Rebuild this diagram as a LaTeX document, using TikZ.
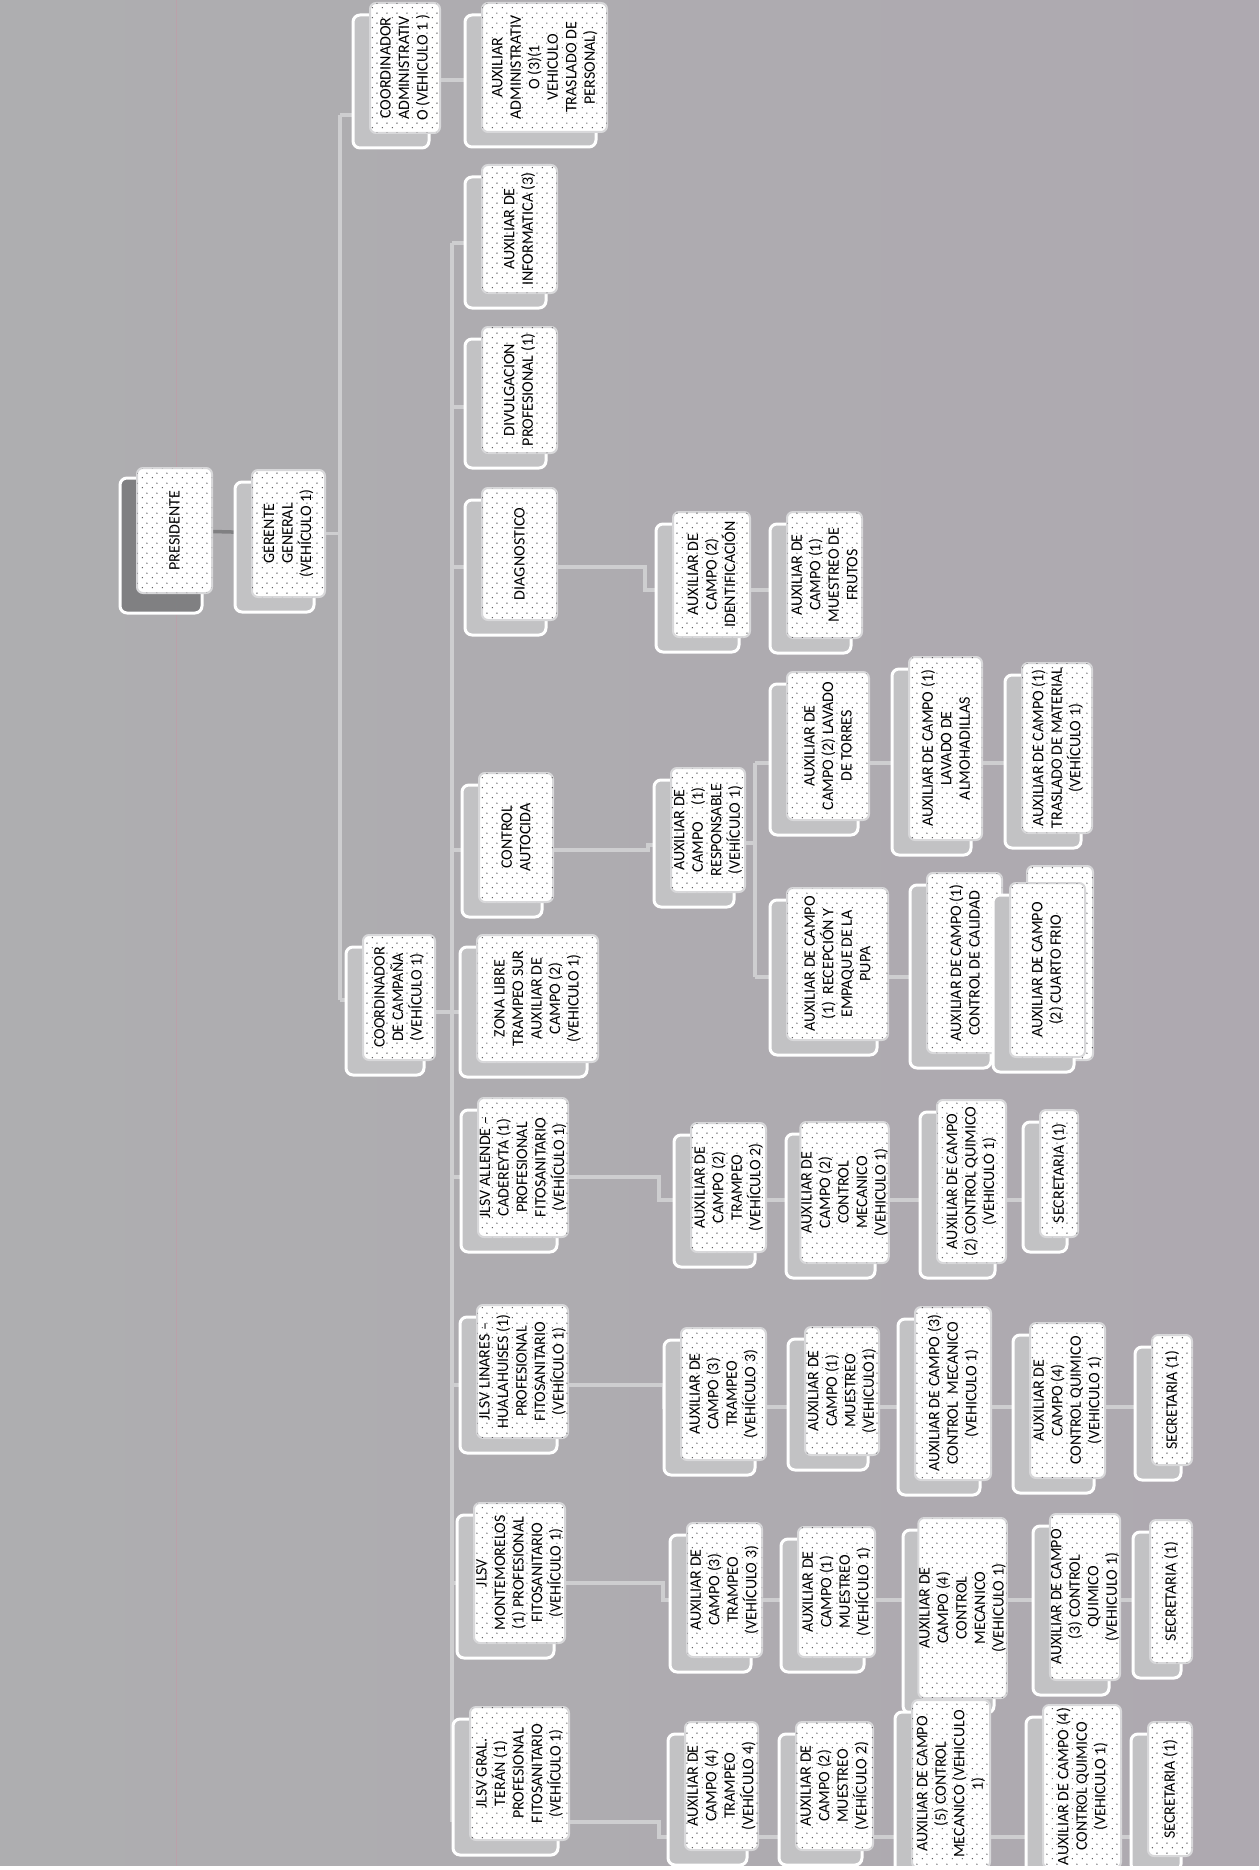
\documentclass[tikz,border=0pt]{standalone}
\usepackage{fontspec}
\setmainfont{Carlito}
\usetikzlibrary{patterns.meta}
\pgfdeclarelayer{back}
\pgfdeclarelayer{lines}
\pgfsetlayers{back,lines,main}
\definecolor{bgA}{RGB}{174,174,176}
\definecolor{bgB}{RGB}{174,169,176}
\definecolor{connc}{RGB}{206,206,208}
\definecolor{shadc}{RGB}{194,194,196}
\definecolor{darksh}{RGB}{128,128,130}
\definecolor{rimc}{RGB}{216,216,218}
\definecolor{dotc}{RGB}{80,80,84}
\tikzdeclarepattern{
  name=sparsedots,
  type=uncolored,
  bottom left={(0pt,0pt)},
  top right={(10pt,10pt)},
  tile size={(10pt,10pt)},
  code={
    \fill (2.5pt,2.5pt) circle[radius=0.8pt];
    \fill (7.5pt,7.5pt) circle[radius=0.8pt];
  }
}
% name, x1, y1, x2, y2, text  (image pixel coordinates of the white box)
\newcommand{\orgbox}[6]{%
  \draw[shadowbox] ({#2-17},{#3+12}) rectangle ({#4-11},{#5+15});
  \node[mainbox, minimum width={(#5)-(#3)}, minimum height={(#4)-(#2)}] (#1) at ({((#2)+(#4))/2},{((#3)+(#5))/2}) {#6};
}
\begin{document}
\begin{tikzpicture}[x=1pt,y=-1pt,
  conn/.style={draw=connc, line width=3.5pt},
  darkconn/.style={draw=darksh, line width=3.5pt},
  shadowbox/.style={fill=shadc, draw=white, line width=3pt, rounded corners=7pt},
  mainbox/.style={rectangle, rounded corners=6pt, fill=white, draw=rimc, line width=2pt,
    rotate=90, inner sep=1pt, align=center, text=black,
    font=\fontsize{16}{18.5}\selectfont,
    postaction={pattern=sparsedots, pattern color=dotc}}]
\useasboundingbox (0,0) rectangle (1259,1870);
\begin{pgfonlayer}{back}
  \shade[left color=bgA, right color=bgB] (0,0) rectangle (1259,1870);
  \draw[draw={rgb,255:red,200;green,150;blue,165}, line width=1pt, opacity=.5] (176,0) -- (176,1870);
\end{pgfonlayer}

% level 1
\draw[shadowbox, fill=darksh] (120,478) rectangle (202,613);
\node[mainbox, minimum width=125, minimum height=75] (pres) at (174.5,530.5) {PRESIDENTE};
\orgbox{ger}{252}{470}{325}{597}{GERENTE\\GENERAL\\(VEHÍCULO 1)}

% coordinators
\orgbox{cadm}{370}{3}{440}{133}{COORDINADOR\\ADMINISTRATIV\\O (VEHICULO 1 )}
\orgbox{auxadm}{482}{3}{607}{132}{AUXILIAR\\ADMINISTRATIV\\O (3)(1\\VEHICULO\\TRASLADO DE\\PERSONAL)}
\orgbox{ccamp}{363}{935}{435}{1060}{COORDINADOR\\DE CAMPAÑA\\(VEHÍCULO 1)}

% children of coordinador de campaña
\orgbox{inf}{482}{165}{557}{293}{AUXILIAR DE\\INFORMATICA (3)}
\orgbox{div}{482}{327}{557}{453}{DIVULGACION\\PROFESIONAL (1)}
\orgbox{diag}{482}{488}{557}{620}{DIAGNOSTICO}
\orgbox{ident}{673}{512}{750}{637}{AUXILIAR DE\\CAMPO (2)\\IDENTIFICACIÓN}
\orgbox{mfrut}{787}{512}{862}{638}{AUXILIAR DE\\CAMPO (1)\\MUESTREO DE\\FRUTOS}

\orgbox{cauto}{479}{773}{553}{902}{CONTROL\\AUTOCIDA}
\orgbox{resp}{671}{768}{745}{892}{AUXILIAR DE\\CAMPO\quad(1)\\RESPONSABLE\\(VEHÍCULO 1)}
\orgbox{ltorres}{787}{672}{869}{820}{AUXILIAR DE\\CAMPO (2) LAVADO\\DE TORRES}
\orgbox{almoh}{909}{657}{982}{840}{AUXILIAR DE CAMPO (1)\\LAVADO DE\\ALMOHADILLAS}
\orgbox{trasl}{1022}{663}{1092}{833}{AUXILIAR DE CAMPO (1)\\TRASLADO DE MATERIAL\\(VEHÍCULO 1)}
\orgbox{recep}{787}{888}{888}{1040}{AUXILIAR DE CAMPO\\(1)\ \ RECEPCIÓN Y\\EMPAQUE DE LA\\PUPA}
\orgbox{calid}{927}{873}{1002}{1053}{AUXILIAR DE CAMPO (1)\\CONTROL DE CALIDAD}
\node[mainbox, minimum width=194, minimum height=66] (cfback) at (1060,963) {};
\orgbox{cfrio}{1010}{883}{1085}{1057}{AUXILIAR DE CAMPO\\(2) CUARTO FRIO}

\orgbox{zona}{477}{935}{598}{1062}{ZONA LIBRE\\TRAMPEO SUR\\AUXILIAR DE\\CAMPO (2)\\(VEHICULO 1)}

\orgbox{allende}{478}{1098}{568}{1237}{JLSV ALLENDE –\\CADEREYTA (1)\\PROFESIONAL\\FITOSANITARIO\\(VEHÍCULO 1)}
\orgbox{atr}{691}{1123}{766}{1252}{AUXILIAR DE\\CAMPO (2)\\TRAMPEO\\(VEHÍCULO 2)}
\orgbox{amec}{803}{1122}{886}{1263}{AUXILIAR DE\\CAMPO (2)\\CONTROL\\MECANICO\\(VEHICULO 1)}
\orgbox{aqui}{937}{1100}{1006}{1263}{AUXILIAR DE CAMPO\\(2) CONTROL QUIMICO\\(VEHICULO 1)}
\orgbox{asec}{1040}{1110}{1078}{1237}{SECRETARIA (1)}

\orgbox{linares}{477}{1305}{568}{1438}{JLSV LINARES –\\HUALAHUISES (1)\\PROFESIONAL\\FITOSANITARIO\\(VEHÍCULO 1)}
\orgbox{ltr}{681}{1328}{766}{1460}{AUXILIAR DE\\CAMPO (3)\\TRAMPEO\\(VEHÍCULO 3)}
\orgbox{lmu}{805}{1327}{879}{1455}{AUXILIAR DE\\CAMPO (1)\\MUESTREO\\(VEHICULO1)}
\orgbox{lmec}{915}{1307}{991}{1480}{AUXILIAR DE CAMPO (3)\\CONTROL\ \ MECANICO\\(VEHICULO 1)}
\orgbox{lqui}{1030}{1323}{1105}{1478}{AUXILIAR DE\\CAMPO (4)\\CONTROL QUIMICO\\(VEHICULO 1)}
\orgbox{lsec}{1152}{1335}{1192}{1465}{SECRETARIA (1)}

\orgbox{monte}{474}{1503}{565}{1643}{JLSV\\MONTEMORELOS\\(1) PROFESIONAL\\FITOSANITARIO\\(VEHÍCULO 1)}
\orgbox{mtr}{687}{1523}{762}{1657}{AUXILIAR DE\\CAMPO (3)\\TRAMPEO\\(VEHÍCULO 3)}
\orgbox{mmu}{798}{1527}{875}{1657}{AUXILIAR DE\\CAMPO (1)\\MUESTREO\\(VEHÍCULO 1)}
\orgbox{mmec}{920}{1518}{1005}{1698}{AUXILIAR DE\\CAMPO (4)\\CONTROL\\MECANICO\\(VEHICULO 1)}
\orgbox{mqui}{1050}{1514}{1120}{1680}{AUXILIAR DE CAMPO\\(3) CONTROL\\QUIMICO\\(VEHICULO 1)}
\orgbox{msec}{1150}{1520}{1192}{1663}{SECRETARIA (1)}

\orgbox{teran}{470}{1707}{569}{1840}{JLSV GRAL.\\TERÁN (1)\\PROFESIONAL\\FITOSANITARIO\\(VEHÍCULO 1)}
\orgbox{gtr}{685}{1722}{758}{1850}{AUXILIAR DE\\CAMPO (4)\\TRAMPEO\\(VEHÍCULO 4)}
\orgbox{gmu}{796}{1722}{873}{1850}{AUXILIAR DE\\CAMPO (2)\\MUESTREO\\(VEHÍCULO 2)}
\orgbox{gmec}{912}{1700}{990}{1868}{AUXILIAR DE CAMPO\\(5) CONTROL\\MECANICO (VEHICULO\\1)}
\orgbox{gqui}{1043}{1705}{1121}{1868}{AUXILIAR DE CAMPO (4)\\CONTROL QUIMICO\\(VEHICULO 1)}
\orgbox{gsec}{1148}{1722}{1192}{1856}{SECRETARIA (1)}

\fill[white] (0,1866) rectangle (1259,1870);

% connectors (behind boxes)
\begin{pgfonlayer}{lines}
  \draw[darkconn] (pres) -- (ger);
  \coordinate (cb1) at (340,115);
  \coordinate (cb2) at (340,1000);
  \draw[conn] (cb1) -- (cb2);
  \draw[conn] (ger.center) -- (ger.center -| cb1);
  \draw[conn] (cb1) -- (cadm.center |- cb1);
  \draw[conn] (cb2) -- (ccamp.center |- cb2);
  \coordinate (aa) at (460,80);
  \draw[conn] (cadm.center |- aa) -- (auxadm.center |- aa);
  % main bus
  \coordinate (b1) at (452,243);
  \coordinate (b2) at (452,1822);
  \draw[conn] (b1) -- (b2);
  \coordinate (bc) at (452,1012);
  \draw[conn] (ccamp.center |- bc) -- (bc) -- (zona.center |- bc);
  \draw[conn] (b1) -- (inf.center |- b1);
  \coordinate (bd) at (452,407);
  \draw[conn] (bd) -- (div.center |- bd);
  % diagnostico
  \coordinate (dg1) at (452,567);
  \coordinate (dg2) at (645,567);
  \coordinate (dg3) at (645,590);
  \draw[conn] (dg1) -- (dg2) -- (dg3) -- (mfrut.center |- dg3);
  % control autocida
  \coordinate (ca1) at (452,850);
  \coordinate (ca2) at (648,850);
  \coordinate (ca3) at (648,845);
  \draw[conn] (ca1) -- (ca2) -- (ca3) -- (resp.center |- ca3);
  \coordinate (r1) at (755,843);
  \coordinate (r2) at (755,763);
  \coordinate (r3) at (755,977);
  \draw[conn] (resp.center |- r1) -- (r1);
  \draw[conn] (r2) -- (r3);
  \draw[conn] (r2) -- (trasl.center |- r2);
  \draw[conn] (r3) -- (cfrio.center |- r3);
  % allende
  \coordinate (al1) at (452,1177);
  \coordinate (al2) at (659,1177);
  \coordinate (al3) at (659,1200);
  \draw[conn] (al1) -- (al2) -- (al3) -- (asec.center |- al3);
  % linares
  \coordinate (li1) at (452,1385);
  \coordinate (li2) at (664,1385);
  \coordinate (li3) at (664,1407);
  \draw[conn] (li1) -- (li2) -- (li3) -- (lsec.center |- li3);
  % montemorelos
  \coordinate (mo1) at (452,1583);
  \coordinate (mo2) at (663,1583);
  \coordinate (mo3) at (663,1600);
  \draw[conn] (mo1) -- (mo2) -- (mo3) -- (msec.center |- mo3);
  % gral teran
  \coordinate (te1) at (452,1822);
  \coordinate (te2) at (659,1822);
  \coordinate (te3) at (659,1837);
  \draw[conn] (te1) -- (te2) -- (te3) -- (gsec.center |- te3);
\end{pgfonlayer}
\end{tikzpicture}
\end{document}
